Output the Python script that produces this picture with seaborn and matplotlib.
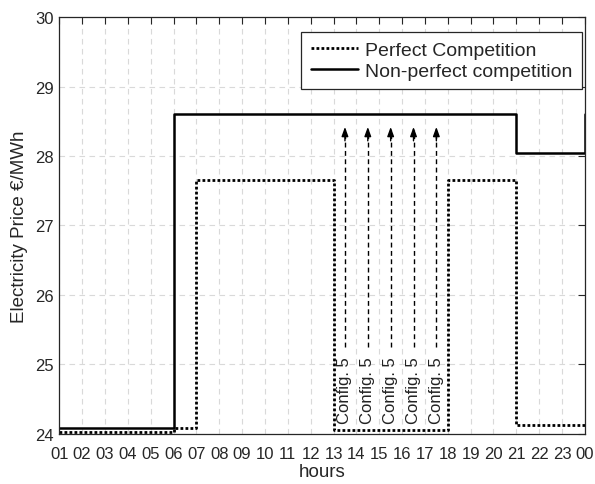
import matplotlib
matplotlib.use("Agg")
import matplotlib.pyplot as plt
import seaborn as sns
import numpy as np

# ---- data ----
hours = list(range(1, 25))
tick_labels = ["01", "02", "03", "04", "05", "06", "07", "08", "09", "10", "11", "12",
               "13", "14", "15", "16", "17", "18", "19", "20", "21", "22", "23", "00"]
perfect = [24.03, 24.03, 24.03, 24.03, 24.03, 24.08, 27.65, 27.65, 27.65, 27.65, 27.65, 27.65,
           24.06, 24.06, 24.06, 24.06, 24.06, 27.65, 27.65, 27.65, 24.13, 24.13, 24.13, 24.15]
nonperfect = [24.08, 24.08, 24.08, 24.08, 24.08, 28.6, 28.6, 28.6, 28.6, 28.6, 28.6, 28.6,
              28.6, 28.6, 28.6, 28.6, 28.6, 28.6, 28.6, 28.6, 28.05, 28.05, 28.05, 28.6]
arrow_x = [13.5, 14.5, 15.5, 16.5, 17.5]
arrow_label = "Config. 5"
arrow_tail = 25.25
arrow_tip = 28.42
series_names = ["Perfect Competition", "Non-perfect competition"]

sns.set_style("white")
plt.rcParams["font.family"] = ["Liberation Sans", "DejaVu Sans"]

fig = plt.figure(figsize=(5.95, 4.85), dpi=100)
ax = fig.add_axes([0.0997, 0.1037, 0.8833, 0.8586])

sns.lineplot(x=hours, y=perfect, ax=ax, drawstyle="steps-post", color="black",
             lw=2.0, linestyle=(0, (1, 0.8)), label=series_names[0], estimator=None, sort=False)
sns.lineplot(x=hours, y=nonperfect, ax=ax, drawstyle="steps-post", color="black",
             lw=1.8, linestyle="-", label=series_names[1], estimator=None, sort=False)

for x in arrow_x:
    ax.plot([x, x], [arrow_tail, arrow_tip - 0.05], color="black", lw=1.0,
            linestyle=(0, (3.5, 2.5)))
    ax.annotate("", xy=(x, arrow_tip), xytext=(x, arrow_tip - 0.2),
                arrowprops=dict(arrowstyle="-|>,head_length=0.55,head_width=0.2",
                                color="black", lw=1.0, shrinkA=0, shrinkB=0))
    ax.text(x, 24.15, arrow_label, rotation=90, ha="center", va="bottom",
            fontsize=12, color="#222222")

ax.set_xlim(1, 24)
ax.set_ylim(24, 30)
ax.set_xticks(hours)
ax.set_xticklabels(tick_labels)
ax.set_yticks([24, 25, 26, 27, 28, 29, 30])
ax.tick_params(axis="both", direction="in", length=5, width=0.8, labelsize=12,
               top=True, right=True, colors="#262626")
ax.tick_params(axis="x", pad=8.5)
ax.tick_params(axis="y", pad=4)
ax.grid(True, linestyle=(0, (5, 4)), color="#d9d9d9", lw=0.8)
for s in ax.spines.values():
    s.set_visible(True)
    s.set_color("#262626")
    s.set_linewidth(0.9)

ax.set_xlabel("hours", fontsize=13.5, color="#262626", labelpad=1.5)
ax.set_ylabel("Electricity Price €/MWh", fontsize=13.5, color="#262626", labelpad=5)

leg = ax.legend(loc="upper right", bbox_to_anchor=(0.994, 0.965), fontsize=14,
                handlelength=2.4, frameon=True, fancybox=False, framealpha=1,
                edgecolor="#262626", borderpad=0.5, labelspacing=0.15, handletextpad=0.35,
                borderaxespad=0)
leg.get_frame().set_linewidth(0.9)

fig.savefig("out.png", dpi=100)
